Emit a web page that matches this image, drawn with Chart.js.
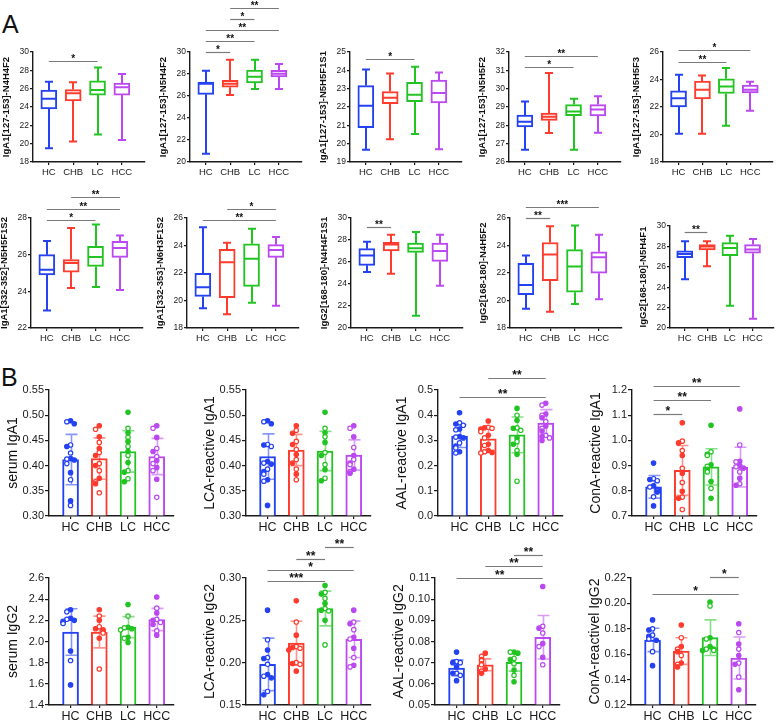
<!DOCTYPE html>
<html>
<head>
<meta charset="utf-8">
<script src="https://cdn.jsdelivr.net/npm/chart.js@4.4.1/dist/chart.umd.min.js"></script>
<style>
html, body { margin: 0; padding: 0; background: #fff; }
#fig { position: relative; width: 777px; height: 725px; overflow: hidden; font-family: 'Liberation Sans', Arial, sans-serif; }
#fig canvas { position: absolute; }
.panel { position: absolute; font-size: 25px; line-height: 1; color: #111; }
</style>
</head>
<body>
<div id="fig">
  <div class="panel" style="left:2px;top:12px">A</div>
  <div class="panel" style="left:1px;top:365px">B</div>
</div>
<script>
const groups = ['HC', 'CHB', 'LC', 'HCC'];

// ---- panel A: box plots, [min, q1, median, q3, max] per group ----
const boxN4H4F2 = [[19.5, 23.78, 24.9, 25.85, 26.75], [20.25, 24.65, 25.5, 25.9, 26.7], [21.0, 25.3, 25.85, 26.85, 28.3], [20.4, 25.3, 26.15, 26.6, 27.6]];
const boxN5H4F2 = [[20.76, 26.15, 27.12, 27.27, 28.3], [26.1, 26.8, 27.12, 27.42, 29.3], [26.64, 27.18, 27.76, 28.36, 29.3], [26.64, 27.73, 28.03, 28.33, 28.9]];
const boxN5H5F1S1 = [[19.67, 20.87, 22.07, 23.17, 24.05], [20.24, 22.18, 22.5, 22.84, 23.83], [20.53, 22.29, 22.67, 23.35, 24.2], [19.69, 22.22, 22.76, 23.47, 23.88]];
const boxN5H5F2 = [[26.67, 27.91, 28.2, 28.56, 29.3], [27.58, 28.27, 28.47, 28.67, 30.85], [26.67, 28.53, 28.75, 29.13, 29.45], [27.6, 28.51, 28.87, 29.13, 29.58]];
const boxN5H5F3 = [[20.05, 22.0, 22.63, 23.17, 24.35], [20.05, 22.59, 23.25, 23.88, 24.3], [20.63, 22.98, 23.5, 24.05, 24.83], [21.73, 23.02, 23.25, 23.6, 23.83]];
const boxN5H5F1S2 = [[22.96, 24.9, 25.18, 26.0, 26.75], [24.18, 25.05, 25.55, 25.73, 27.45], [24.24, 25.36, 25.87, 26.45, 27.64], [24.07, 25.85, 26.36, 26.73, 27.05]];
const boxN6H3F1S2 = [[19.43, 20.3, 20.96, 21.98, 25.32], [19.0, 20.21, 22.78, 23.72, 24.2], [19.84, 21.03, 23.04, 24.13, 25.22], [19.62, 23.14, 23.67, 24.06, 24.61]];
const boxN4H4F1S1 = [[25.09, 25.7, 26.6, 27.21, 27.85], [24.94, 27.0, 27.58, 27.79, 28.48], [21.12, 26.88, 27.24, 27.73, 28.73], [23.85, 26.06, 27.0, 27.73, 28.48]];
const boxN4H5F2 = [[19.4, 20.42, 21.12, 22.7, 23.28], [19.18, 21.45, 23.35, 24.22, 25.4], [19.74, 20.6, 22.47, 23.7, 25.45], [20.1, 21.99, 23.15, 23.54, 24.78]];
const boxN5H4F1 = [[24.79, 26.9, 27.26, 27.56, 28.5], [26.06, 27.65, 28.0, 28.18, 28.5], [22.18, 27.1, 27.85, 28.37, 29.05], [20.91, 27.33, 27.69, 28.18, 28.73]];

// y axis [min, max, step]
const axisN4H4F2 = [18, 30, 2];
const axisN5H4F2 = [20, 30, 2];
const axisN5H5F1S1 = [19, 25, 1];
const axisN5H5F2 = [26, 32, 1];
const axisN5H5F3 = [18, 26, 2];
const axisN5H5F1S2 = [22, 28, 2];
const axisN6H3F1S2 = [18, 26, 2];
const axisN4H4F1S1 = [20, 30, 2];
const axisN4H5F2 = [18, 26, 2];
const axisN5H4F1 = [20, 30, 2];

// significance: [group a, group b, level, label]
const sigN4H4F2 = [[0, 2, 29, '*']];
const sigN5H4F2 = [[0, 1, 30, '*'], [0, 2, 31, '**'], [0, 3, 32, '**'], [1, 2, 33, '*'], [1, 3, 34, '**']];
const sigN5H5F1S1 = [[0, 2, 24.62, '*']];
const sigN5H5F2 = [[0, 2, 31.18, '*'], [0, 3, 31.76, '**']];
const sigN5H5F3 = [[0, 2, 25.24, '**'], [0, 3, 26.15, '*']];
const sigN5H5F1S2 = [[0, 2, 27.9, '*'], [0, 3, 28.5, '**'], [1, 3, 29.13, '**']];
const sigN6H3F1S2 = [[0, 3, 25.88, '**'], [1, 3, 26.68, '*']];
const sigN4H4F1S1 = [[0, 1, 29.18, '**']];
const sigN4H5F2 = [[0, 1, 26.0, '**'], [0, 3, 26.8, '***']];
const sigN5H4F1 = [[0, 1, 29.41, '**']];

// ---- panel B: mean, SD and individual points ----
const serumIgA1Mean = [0.412, 0.414, 0.428, 0.418];
const serumIgA1Sd = [0.05, 0.041, 0.041, 0.036];
const serumIgA1Pts = [
  [0.489, 0.487, 0.483, 0.441, 0.438, 0.425, 0.414, 0.413, 0.411, 0.404, 0.386, 0.372, 0.33, 0.321],
  [0.479, 0.472, 0.457, 0.446, 0.434, 0.426, 0.42, 0.404, 0.4, 0.39, 0.375, 0.368, 0.364, 0.346],
  [0.506, 0.474, 0.465, 0.456, 0.448, 0.438, 0.428, 0.42, 0.406, 0.39, 0.387, 0.374, 0.368],
  [0.479, 0.474, 0.456, 0.434, 0.428, 0.418, 0.41, 0.404, 0.396, 0.39, 0.373, 0.337]];
const serumIgA1Axis = [0.30, 0.55, 0.05];

const lcaIgA1Mean = [0.418, 0.431, 0.429, 0.421];
const lcaIgA1Sd = [0.045, 0.031, 0.039, 0.03];
const lcaIgA1Pts = [
  [0.489, 0.487, 0.483, 0.442, 0.441, 0.438, 0.408, 0.405, 0.403, 0.393, 0.388, 0.383, 0.372, 0.369, 0.321],
  [0.479, 0.47, 0.464, 0.448, 0.442, 0.432, 0.422, 0.412, 0.405, 0.393, 0.383, 0.372],
  [0.506, 0.474, 0.465, 0.457, 0.446, 0.426, 0.42, 0.402, 0.392, 0.375, 0.37],
  [0.479, 0.474, 0.457, 0.436, 0.42, 0.412, 0.405, 0.402, 0.393, 0.388, 0.385]];
const lcaIgA1Axis = [0.30, 0.55, 0.05];

const aalIgA1Mean = [0.317, 0.306, 0.322, 0.369];
const aalIgA1Sd = [0.045, 0.045, 0.071, 0.053];
const aalIgA1Pts = [
  [0.41, 0.37, 0.365, 0.36, 0.345, 0.342, 0.315, 0.313, 0.31, 0.29, 0.278, 0.27, 0.255, 0.25],
  [0.377, 0.352, 0.35, 0.348, 0.345, 0.335, 0.32, 0.31, 0.285, 0.28, 0.26, 0.255, 0.252, 0.25],
  [0.427, 0.4, 0.38, 0.35, 0.348, 0.34, 0.31, 0.295, 0.285, 0.26, 0.245, 0.138],
  [0.447, 0.44, 0.405, 0.4, 0.39, 0.375, 0.357, 0.348, 0.337, 0.32, 0.315, 0.31, 0.3]];
const aalIgA1Axis = [0.0, 0.5, 0.1];
const aalIgA1Sig = [[0, 3, 0.471, '**'], [1, 3, 0.546, '**']];

const conaIgA1Mean = [0.816, 0.881, 0.895, 0.894];
const conaIgA1Sd = [0.045, 0.099, 0.072, 0.079];
const conaIgA1Pts = [
  [0.91, 0.848, 0.845, 0.84, 0.82, 0.815, 0.805, 0.8, 0.795, 0.776, 0.74],
  [1.07, 0.997, 0.99, 0.96, 0.94, 0.889, 0.87, 0.833, 0.798, 0.775, 0.77, 0.726],
  [1.06, 0.955, 0.945, 0.94, 0.903, 0.897, 0.885, 0.875, 0.837, 0.81, 0.77],
  [1.125, 0.982, 0.917, 0.915, 0.9, 0.895, 0.89, 0.875, 0.85, 0.828, 0.822]];
const conaIgA1Axis = [0.7, 1.2, 0.1];
const conaIgA1Sig = [[0, 1, 1.106, '*'], [0, 2, 1.159, '**'], [0, 3, 1.216, '**']];

const serumIgG2Mean = [2.09, 2.09, 2.135, 2.208];
const serumIgG2Sd = [0.22, 0.15, 0.1, 0.105];
const serumIgG2Pts = [
  [2.3, 2.28, 2.22, 2.21, 2.2, 2.19, 2.18, 2.17, 1.91, 1.82, 1.59],
  [2.3, 2.24, 2.2, 2.14, 2.12, 2.11, 2.1, 2.08, 2.03, 1.74],
  [2.35, 2.24, 2.135, 2.13, 2.12, 2.11, 2.04, 2.03, 1.99],
  [2.42, 2.315, 2.27, 2.21, 2.2, 2.18, 2.16, 2.1, 2.06]];
const serumIgG2Axis = [1.4, 2.6, 0.2];

const lcaIgG2Mean = [0.198, 0.223, 0.264, 0.2276];
const lcaIgG2Sd = [0.031, 0.026, 0.0205, 0.0215];
const lcaIgG2Pts = [
  [0.262, 0.227, 0.215, 0.206, 0.205, 0.198, 0.186, 0.184, 0.182, 0.166, 0.162],
  [0.273, 0.248, 0.2325, 0.219, 0.218, 0.217, 0.215, 0.2, 0.199, 0.198, 0.19],
  [0.291, 0.283, 0.281, 0.276, 0.27, 0.264, 0.262, 0.261, 0.25, 0.221],
  [0.262, 0.248, 0.246, 0.239, 0.23, 0.228, 0.217, 0.206, 0.197, 0.195]];
const lcaIgG2Axis = [0.15, 0.30, 0.05];
const lcaIgG2Sig = [[0, 2, 0.297, '***'], [0, 3, 0.31, '*'], [1, 2, 0.323, '**'], [2, 3, 0.337, '**']];

const aalIgG2Mean = [0.0675, 0.069, 0.0702, 0.082];
const aalIgG2Sd = [0.0038, 0.0028, 0.0042, 0.0103];
const aalIgG2Pts = [
  [0.075, 0.0705, 0.07, 0.07, 0.068, 0.065, 0.065, 0.064, 0.0615],
  [0.0745, 0.073, 0.0715, 0.071, 0.0695, 0.069, 0.067, 0.066, 0.065],
  [0.075, 0.075, 0.0745, 0.072, 0.0715, 0.0695, 0.0665, 0.064, 0.061],
  [0.106, 0.0872, 0.0863, 0.084, 0.079, 0.0776, 0.0725, 0.069]];
const aalIgG2Axis = [0.05, 0.11, 0.01];
const aalIgG2Sig = [[0, 3, 0.11, '**'], [1, 3, 0.1155, '**'], [2, 3, 0.121, '**']];

const conaIgG2Mean = [0.1712, 0.1625, 0.173, 0.157];
const conaIgG2Sd = [0.0092, 0.0105, 0.014, 0.0165];
const conaIgG2Pts = [
  [0.187, 0.18, 0.179, 0.175, 0.174, 0.172, 0.171, 0.162, 0.151],
  [0.183, 0.173, 0.166, 0.164, 0.162, 0.159, 0.153, 0.152, 0.15],
  [0.201, 0.198, 0.173, 0.172, 0.166, 0.164, 0.164, 0.163, 0.163],
  [0.184, 0.177, 0.168, 0.164, 0.159, 0.153, 0.152, 0.142, 0.132]];
const conaIgG2Axis = [0.12, 0.22, 0.02];
const conaIgG2Sig = [[0, 3, 0.2076, '*'], [2, 3, 0.2205, '*']];

// ---- drawing ----
const fontFamily = "'Liberation Sans', Arial, sans-serif";
const groupColors = ['#2442f2', '#ff3b2e', '#22c422', '#bb48f0'];
const errColors = ['rgba(36,66,242,0.55)', 'rgba(255,59,46,0.55)', 'rgba(34,196,34,0.55)', 'rgba(187,72,240,0.55)'];
const ink = '#1a1a1a';

function place(rect, yw, padTop, xh) {
  const c = document.createElement('canvas');
  const W = yw + rect[2] + 6, H = padTop + rect[3] + xh;
  c.width = W; c.height = H;
  c.style.width = W + 'px'; c.style.height = H + 'px';
  c.style.left = (rect[0] - yw) + 'px';
  c.style.top = (rect[1] - padTop) + 'px';
  document.getElementById('fig').appendChild(c);
  return c;
}

function chartOptions(o) {
  return {
    responsive: false, animation: false, events: [],
    layout: { padding: { top: o.padTop, right: 6, left: 0, bottom: 0 } },
    plugins: { legend: { display: false }, tooltip: { enabled: false } },
    scales: {
      x: {
        type: 'linear', min: o.xmin, max: o.xmax, offset: false,
        afterBuildTicks: s => { s.ticks = groups.map((g, i) => ({ value: i })); },
        afterFit: s => { s.height = o.xh; },
        ticks: { callback: v => groups[v], autoSkip: false, maxRotation: 0, padding: o.xPad, color: ink, font: { family: fontFamily, size: o.xFont } },
        grid: { offset: false, drawOnChartArea: false, tickLength: 3, color: ink, lineWidth: 1.2 },
        border: { color: ink, width: 1.4 }
      },
      y: {
        min: o.axis[0], max: o.axis[1], beginAtZero: false,
        afterFit: s => { s.width = o.yw; },
        ticks: { stepSize: o.axis[2], callback: v => v.toFixed(o.dec), padding: 1, color: ink, font: { family: fontFamily, size: o.yFont } },
        grid: { drawOnChartArea: false, tickLength: o.tick, color: ink, lineWidth: 1.2 },
        border: { color: ink, width: 1.4 },
        title: { display: true, text: o.title, color: '#111', padding: { top: o.tPad, bottom: 0 }, font: { family: fontFamily, size: o.tFont, weight: o.tWeight } }
      }
    }
  };
}

function drawSig(ctx, x, y, sig, size) {
  ctx.save();
  ctx.strokeStyle = '#7a7a7a'; ctx.lineWidth = 1.2;
  ctx.fillStyle = '#111';
  ctx.font = 'bold ' + size + 'px ' + fontFamily;
  ctx.textAlign = 'center'; ctx.textBaseline = 'alphabetic';
  sig.forEach(([a, b, level, label]) => {
    const yy = Math.round(y.getPixelForValue(level)) + 0.5;
    const xa = x.getPixelForValue(a), xb = x.getPixelForValue(b);
    ctx.beginPath(); ctx.moveTo(xa, yy); ctx.lineTo(xb, yy); ctx.stroke();
    ctx.fillText(label, (xa + xb) / 2, yy + 0.5);
  });
  ctx.restore();
}

function boxChart(rect, title, box, axis, sig) {
  const o = { padTop: 55, yw: 34, xh: 24, xmin: -0.65, xmax: 3.95, axis: axis, dec: 0, title: title,
    xFont: 9.5, xPad: 2, yFont: 8.5, tick: 3, tPad: 2, tFont: 9.5, tWeight: 'bold' };
  const canvas = place(rect, o.yw, o.padTop, o.xh);
  new Chart(canvas, {
    type: 'bar',
    data: {
      datasets: [{
        data: box.map((b, i) => ({ x: i, y: [b[1], b[3]] })),
        backgroundColor: '#fff', borderColor: groupColors, borderWidth: 2,
        borderSkipped: false, barThickness: 16
      }]
    },
    options: chartOptions(o),
    plugins: [{
      id: 'boxParts',
      afterDatasetsDraw(chart) {
        const { ctx, scales: { x, y } } = chart;
        const bars = chart.getDatasetMeta(0).data;
        ctx.save();
        ctx.lineWidth = 2;
        box.forEach((b, i) => {
          const cx = Math.round(x.getPixelForValue(i));
          const [mn, q1, md, q3, mx] = b.map(v => y.getPixelForValue(v));
          const half = bars[i].width / 2 - 1;
          ctx.strokeStyle = groupColors[i];
          ctx.beginPath();
          ctx.moveTo(cx, q3); ctx.lineTo(cx, mx);
          ctx.moveTo(cx - 4, mx); ctx.lineTo(cx + 4, mx);
          ctx.moveTo(cx, q1); ctx.lineTo(cx, mn);
          ctx.moveTo(cx - 4, mn); ctx.lineTo(cx + 4, mn);
          ctx.moveTo(cx - half, md); ctx.lineTo(cx + half, md);
          ctx.stroke();
        });
        ctx.restore();
        drawSig(ctx, x, y, sig, 10);
      }
    }]
  });
}

// spread points sideways when their values are close, like a column scatter
function spread(vals, tol) {
  const offs = [0, -1, 1, -2, 2, -3, 3, -4, 4];
  return vals.map((v, k) => {
    let n = 0;
    for (let j = 0; j < k; j++) if (Math.abs(vals[j] - v) < tol) n++;
    return offs[n % offs.length] * 0.13;
  });
}

function barChart(rect, title, mean, sd, pts, axis, dec, sig) {
  const o = { padTop: 60, yw: 50, xh: 24, xmin: -0.75, xmax: 3.6, axis: axis, dec: dec, title: title,
    xFont: 12.5, xPad: 1, yFont: 11, tick: 4, tPad: 6, tFont: 14, tWeight: 'normal' };
  const canvas = place(rect, o.yw, o.padTop, o.xh);
  const tol = (axis[1] - axis[0]) * 0.03;
  const datasets = [{
    type: 'bar', order: 3,
    data: mean.map((m, i) => ({ x: i, y: m })),
    base: axis[0], backgroundColor: '#fff', borderColor: groupColors, borderWidth: 2, barThickness: 16
  }];
  pts.forEach((vals, i) => {
    const jit = spread(vals, tol);
    datasets.push({
      type: 'scatter', order: 1, clip: false,
      data: vals.map((v, k) => ({ x: i + jit[k], y: v })),
      borderColor: groupColors[i],
      pointBackgroundColor: vals.map((v, k) => k % 2 ? '#fff' : groupColors[i]),
      pointBorderColor: groupColors[i], pointRadius: 2.2, pointBorderWidth: 1.2
    });
  });
  new Chart(canvas, {
    type: 'bar',
    data: { datasets: datasets },
    options: chartOptions(o),
    plugins: [{
      id: 'errorBars',
      afterDatasetDraw(chart, args) {
        if (args.index !== 0) return;
        const { ctx, scales: { x, y } } = chart;
        ctx.save();
        ctx.lineWidth = 1.6;
        mean.forEach((m, i) => {
          const cx = Math.round(x.getPixelForValue(i)) + 0.5;
          const top = y.getPixelForValue(m + sd[i]), bot = y.getPixelForValue(m - sd[i]);
          ctx.strokeStyle = errColors[i];
          ctx.beginPath();
          ctx.moveTo(cx, top); ctx.lineTo(cx, bot);
          ctx.moveTo(cx - 6, top); ctx.lineTo(cx + 6, top);
          ctx.moveTo(cx - 6, bot); ctx.lineTo(cx + 6, bot);
          ctx.stroke();
        });
        ctx.restore();
      },
      afterDatasetsDraw(chart) {
        drawSig(chart.ctx, chart.scales.x, chart.scales.y, sig, 12);
      }
    }]
  });
}

// panel A
boxChart([33, 52, 112, 110], 'IgA1[127-153]-N4H4F2', boxN4H4F2, axisN4H4F2, sigN4H4F2);
boxChart([190, 52, 112, 110], 'IgA1[127-153]-N5H4F2', boxN5H4F2, axisN5H4F2, sigN5H4F2);
boxChart([350, 52, 112, 110], 'IgA1[127-153]-N5H5F1S1', boxN5H5F1S1, axisN5H5F1S1, sigN5H5F1S1);
boxChart([509, 52, 112, 110], 'IgA1[127-153]-N5H5F2', boxN5H5F2, axisN5H5F2, sigN5H5F2);
boxChart([663, 52, 110, 110], 'IgA1[127-153]-N5H5F3', boxN5H5F3, axisN5H5F3, sigN5H5F3);
boxChart([31, 218, 112, 110], 'IgA1[332-352]-N5H5F1S2', boxN5H5F1S2, axisN5H5F1S2, sigN5H5F1S2);
boxChart([187, 218, 112, 110], 'IgA1[332-353]-N6H3F1S2', boxN6H3F1S2, axisN6H3F1S2, sigN6H3F1S2);
boxChart([351, 218, 112, 110], 'IgG2[168-180]-N4H4F1S1', boxN4H4F1S1, axisN4H4F1S1, sigN4H4F1S1);
boxChart([510, 218, 112, 110], 'IgG2[168-180]-N4H5F2', boxN4H5F2, axisN4H5F2, sigN4H5F2);
boxChart([670, 226, 104, 102], 'IgG2[168-180]-N5H4F1', boxN5H4F1, axisN5H4F1, sigN5H4F1);

// panel B
barChart([49, 390, 125, 126], 'serum IgA1', serumIgA1Mean, serumIgA1Sd, serumIgA1Pts, serumIgA1Axis, 2, []);
barChart([246, 390, 125, 126], 'LCA-reactive IgA1', lcaIgA1Mean, lcaIgA1Sd, lcaIgA1Pts, lcaIgA1Axis, 2, []);
barChart([438, 390, 125, 126], 'AAL-reactive IgA1', aalIgA1Mean, aalIgA1Sd, aalIgA1Pts, aalIgA1Axis, 1, aalIgA1Sig);
barChart([632, 390, 125, 126], 'ConA-reactive IgA1', conaIgA1Mean, conaIgA1Sd, conaIgA1Pts, conaIgA1Axis, 1, conaIgA1Sig);
barChart([49, 578, 125, 127], 'serum IgG2', serumIgG2Mean, serumIgG2Sd, serumIgG2Pts, serumIgG2Axis, 1, []);
barChart([246, 578, 125, 127], 'LCA-reactive IgG2', lcaIgG2Mean, lcaIgG2Sd, lcaIgG2Pts, lcaIgG2Axis, 2, lcaIgG2Sig);
barChart([435, 578, 125, 127], 'AAL-reactive IgG2', aalIgG2Mean, aalIgG2Sd, aalIgG2Pts, aalIgG2Axis, 2, aalIgG2Sig);
barChart([631, 578, 125, 127], 'ConA-reactivel IgG2', conaIgG2Mean, conaIgG2Sd, conaIgG2Pts, conaIgG2Axis, 2, conaIgG2Sig);
</script>
</body>
</html>
